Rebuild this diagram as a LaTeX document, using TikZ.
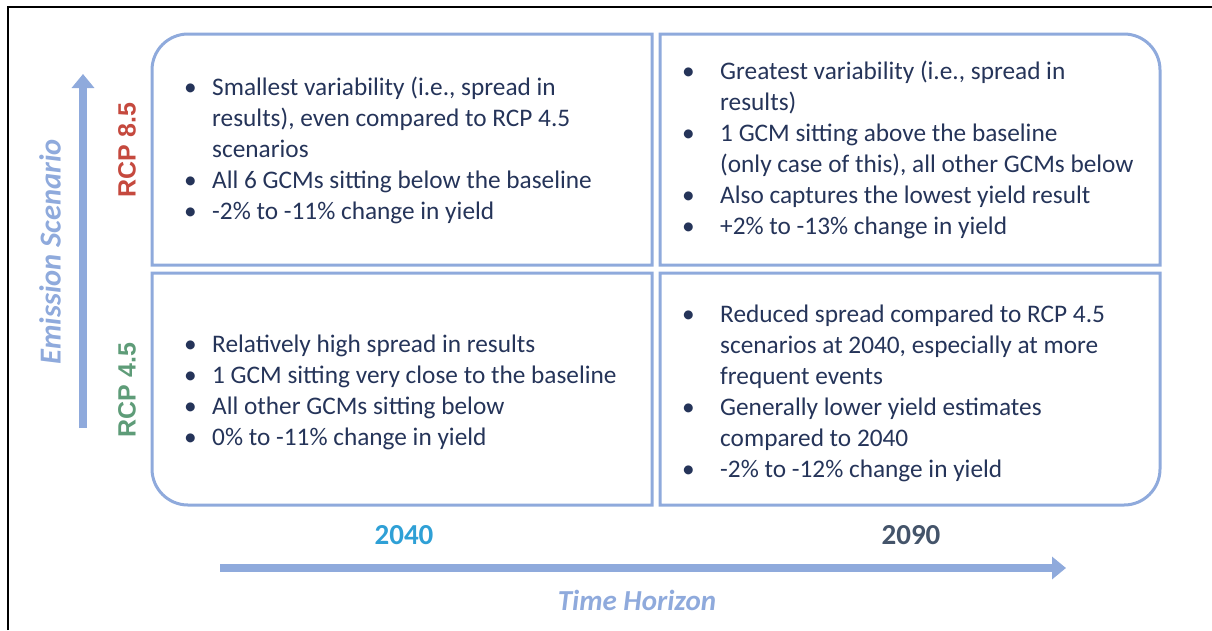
\documentclass[tikz,border=0pt]{standalone}
\usepackage{fontspec}
\setmainfont{Carlito}
\newfontfamily\arialfont{Liberation Sans}
\usepackage{tikz}
\usetikzlibrary{arrows.meta}
\definecolor{gridblue}{HTML}{8FAADC}
\definecolor{bodytxt}{HTML}{253459}
\definecolor{rcpred}{HTML}{C5493E}
\definecolor{rcpgreen}{HTML}{5E9C78}
\definecolor{yearcyan}{HTML}{2FA0D6}
\definecolor{yeargrey}{HTML}{44546A}
\tikzset{cellbox/.style={draw=gridblue,line width=3pt},
    axisarrow/.style={draw=gridblue,line width=8pt,-{Triangle[length=14pt,width=22pt]}},
    axislabel/.style={text=gridblue,font=\fontsize{29}{34}\selectfont\bfseries\itshape},
    rcplabel/.style={font=\arialfont\fontsize{25}{30}\selectfont\bfseries,rotate=90},
    yearlabel/.style={font=\fontsize{29}{34}\selectfont\bfseries},
    celltext/.style={anchor=west,inner sep=0pt,text=bodytxt,font=\fontsize{25.3}{31}\selectfont}}
\begin{document}
\begin{tikzpicture}[x=1pt,y=1pt,yscale=-1,xscale=1]
\useasboundingbox (0,0) rectangle (1212,630);
%Straight Lines [frame]
\draw [line width=2pt] (8,630) -- (8,7) -- (1212,7) ;

%Shape: Box [top left]
\draw [cellbox] (152,150) [rounded corners=36] -- (152,34) -- (400,34) [sharp corners] -- (652,34) -- (652,265) -- (152,265) -- cycle ;
%Shape: Box [top right]
\draw [cellbox] (900,34) [rounded corners=36] -- (1160,34) -- (1160,150) [sharp corners] -- (1160,265) -- (660,265) -- (660,34) -- cycle ;
%Shape: Box [bottom left]
\draw [cellbox] (152,390) [rounded corners=36] -- (152,505) -- (400,505) [sharp corners] -- (652,505) -- (652,273) -- (152,273) -- cycle ;
%Shape: Box [bottom right]
\draw [cellbox] (900,505) [rounded corners=36] -- (1160,505) -- (1160,390) [sharp corners] -- (1160,273) -- (660,273) -- (660,505) -- cycle ;

%Axis arrows
\coordinate (ylow) at (83,428);
\coordinate (yhigh) at (83,74);
\coordinate (xlow) at (220,568);
\coordinate (xhigh) at (1066,568);
\draw [axisarrow] (ylow) -- (yhigh) ;
\draw [axisarrow] (xlow) -- (xhigh) ;

% Text Node
\node [axislabel,font=\fontsize{30.5}{36}\selectfont\bfseries\itshape,rotate=90] (emission) at (50,252) {Emission Scenario};
% Text Node
\node [axislabel] (horizon) at (637,600) {Time Horizon};
% Text Node
\node [rcplabel,text=rcpred] (rcphigh) at (127,150) {RCP 8.5};
% Text Node
\node [rcplabel,text=rcpgreen] (rcplow) at (127,390) {RCP 4.5};
% Text Node
\node [yearlabel,text=yearcyan] (near) at (404,535) {2040};
% Text Node
\node [yearlabel,text=yeargrey] (far) at (911,535) {2090};

% Text Node
\node [celltext] (hinear) at (184,151.5) {\begin{tabular}{@{}p{28pt}@{}l@{}}
\textbullet & Smallest variability (i.e., spread in\\
 & results), even compared to RCP 4.5\\
 & scenarios\\
\textbullet & All 6 GCMs sitting below the baseline\\
\textbullet & -2\% to -11\% change in yield
\end{tabular}};
% Text Node
\node [celltext] (hifar) at (682,150.5) {\begin{tabular}{@{}p{38pt}@{}l@{}}
\textbullet & Greatest variability (i.e., spread in\\
 & results)\\
\textbullet & 1 GCM sitting above the baseline\\
 & (only case of this), all other GCMs below\\
\textbullet & Also captures the lowest yield result\\
\textbullet & +2\% to -13\% change in yield
\end{tabular}};
% Text Node
\node [celltext] (lonear) at (184,393) {\begin{tabular}{@{}p{28pt}@{}l@{}}
\textbullet & Relatively high spread in results\\
\textbullet & 1 GCM sitting very close to the baseline\\
\textbullet & All other GCMs sitting below\\
\textbullet & 0\% to -11\% change in yield
\end{tabular}};
% Text Node
\node [celltext] (lofar) at (682,393.5) {\begin{tabular}{@{}p{38pt}@{}l@{}}
\textbullet & Reduced spread compared to RCP 4.5\\
 & scenarios at 2040, especially at more\\
 & frequent events\\
\textbullet & Generally lower yield estimates\\
 & compared to 2040\\
\textbullet & -2\% to -12\% change in yield
\end{tabular}};

\end{tikzpicture}
\end{document}
